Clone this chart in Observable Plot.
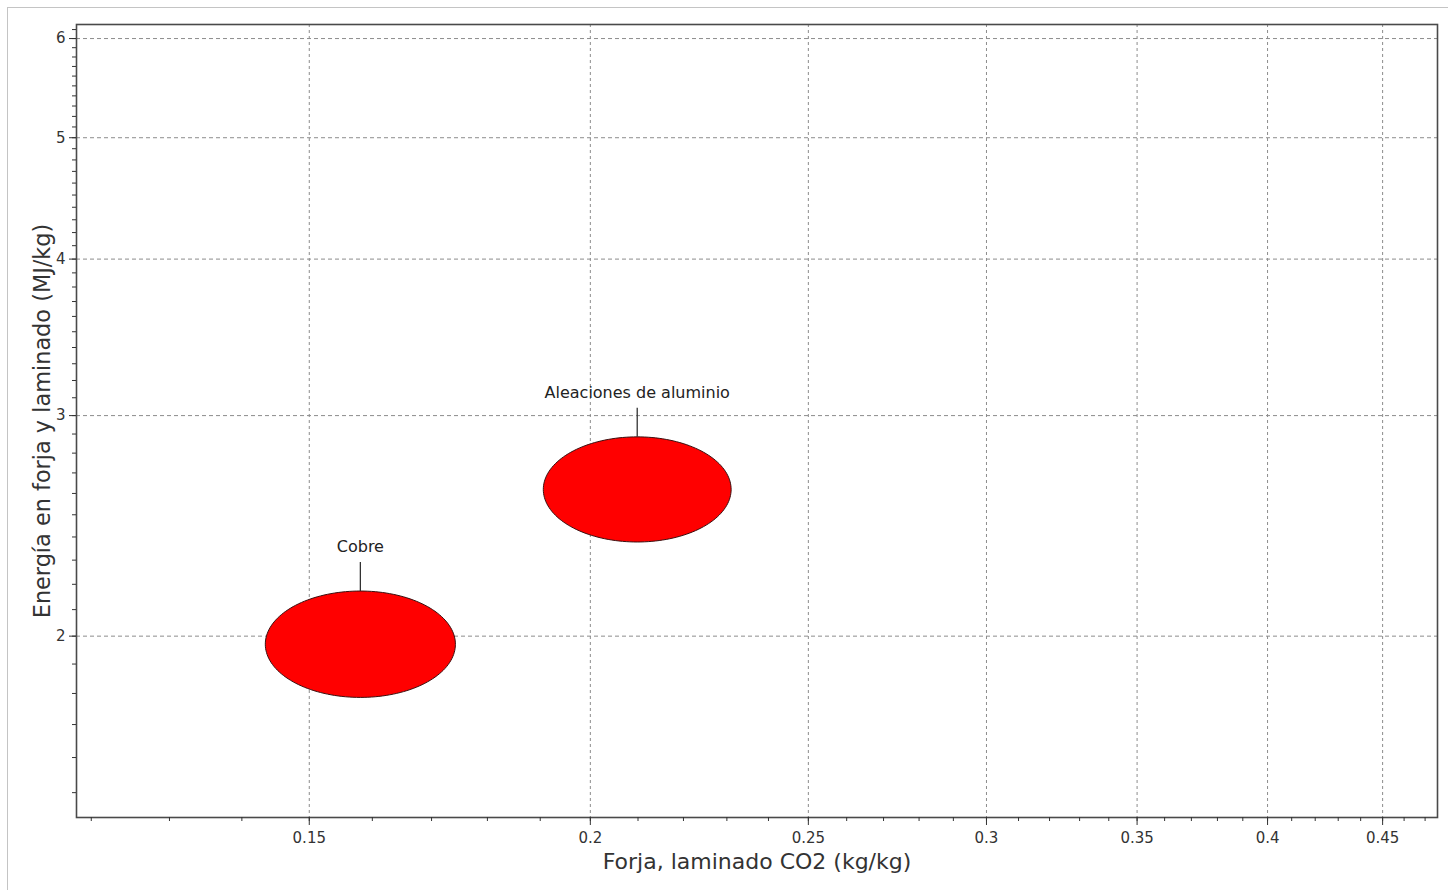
<!DOCTYPE html>
<html><head><meta charset="utf-8">
<script src="https://cdn.jsdelivr.net/npm/d3@7"></script>
<script src="https://cdn.jsdelivr.net/npm/@observablehq/plot@0.6"></script>
<style>
body{margin:0;background:#fff;}
#wrap{position:relative;width:1448px;height:890px;overflow:hidden;background:#fff;}
#border{position:absolute;left:7px;top:7px;width:1460px;height:900px;border:1px solid #c4c4c4;pointer-events:none;}
svg{display:block;}
</style></head><body><div id="wrap"><div id="border"></div></div>
<script>
// Materials and their property ranges (min / max)
const materials = ["Cobre", "Aleaciones de aluminio"];
const co2Min = [0.1434, 0.1906];
const co2Max = [0.1742, 0.2310];
const energyMin = [1.787, 2.378];
const energyMax = [2.173, 2.885];

const xTicks = [0.15, 0.2, 0.25, 0.3, 0.35, 0.4, 0.45];
const yTicks = [2, 3, 4, 5, 6];
const xTitle = "Forja, laminado CO2 (kg/kg)";
const yTitle = "Energía en forja y laminado (MJ/kg)";

const xMinor = d3.range(12, 48).map(v => v / 100);
const yMinor = d3.range(15, 62).map(v => v / 10);

const rows = materials.map((name, i) => ({
  name,
  xlo: co2Min[i], xhi: co2Max[i], ylo: energyMin[i], yhi: energyMax[i],
  xc: Math.sqrt(co2Min[i] * co2Max[i]),
  yc: Math.sqrt(energyMin[i] * energyMax[i])
}));

// bubble outline: ellipse spanning each range in log space
const outline = rows.flatMap(r => {
  const lx = Math.log(r.xc), ly = Math.log(r.yc);
  const ax = (Math.log(r.xhi) - Math.log(r.xlo)) / 2;
  const ay = (Math.log(r.yhi) - Math.log(r.ylo)) / 2;
  return d3.range(0, 160).map(k => {
    const t = 2 * Math.PI * k / 160;
    return {name: r.name, x: Math.exp(lx + ax * Math.cos(t)), y: Math.exp(ly + ay * Math.sin(t))};
  });
});

const leader = {draw(ctx) { ctx.moveTo(0, 0); ctx.lineTo(0, -29); }};
const FONT = "'DejaVu Sans', sans-serif";

const chart = Plot.plot({
  width: 1448,
  height: 890,
  marginLeft: 76,
  marginRight: 11,
  marginTop: 24,
  marginBottom: 73,
  style: {fontFamily: FONT, fontSize: "15px", color: "#333", background: "transparent"},
  x: {type: "log", domain: [0.1182, 0.476]},
  y: {type: "log", domain: [1.433, 6.157]},
  marks: [
    Plot.gridX(xTicks, {stroke: "#8c8c8c", strokeOpacity: 1, strokeDasharray: "3,3"}),
    Plot.gridY(yTicks, {stroke: "#8c8c8c", strokeOpacity: 1, strokeDasharray: "4,3"}),
    Plot.line(outline, {x: "x", y: "y", z: "name", curve: "linear-closed", fill: "#ff0000", stroke: "#3a1010", strokeWidth: 1}),
    Plot.dot(rows, {x: "xc", y: "yhi", symbol: leader, r: 3, stroke: "#333", strokeWidth: 1.3, fill: "none"}),
    Plot.text(rows, {x: "xc", y: "yhi", text: "name", dy: -44, fontSize: 16, fill: "#222"}),
    Plot.frame({stroke: "#4a4a4a", strokeWidth: 1.6}),
    Plot.axisX(xMinor, {tickSize: 4, tickFormat: () => "", label: null, stroke: "#333"}),
    Plot.axisX(xTicks, {tickSize: 8, tickPadding: 7, tickFormat: d => String(d), label: null, stroke: "#333", fontSize: 15}),
    Plot.axisY(yMinor, {tickSize: 4, tickFormat: () => "", label: null, stroke: "#333"}),
    Plot.axisY(yTicks, {tickSize: 7, tickPadding: 4, tickFormat: d => String(d), label: null, stroke: "#333", fontSize: 15}),
    Plot.text([xTitle], {frameAnchor: "bottom", dy: 51, text: d => d, fontSize: 22, fill: "#333"}),
    Plot.text([yTitle], {frameAnchor: "left", textAnchor: "middle", lineAnchor: "middle", dx: -34, rotate: -90, text: d => d, fontSize: 22.4, fill: "#333"})
  ]
});
document.getElementById("wrap").prepend(chart);
</script>
</body></html>
